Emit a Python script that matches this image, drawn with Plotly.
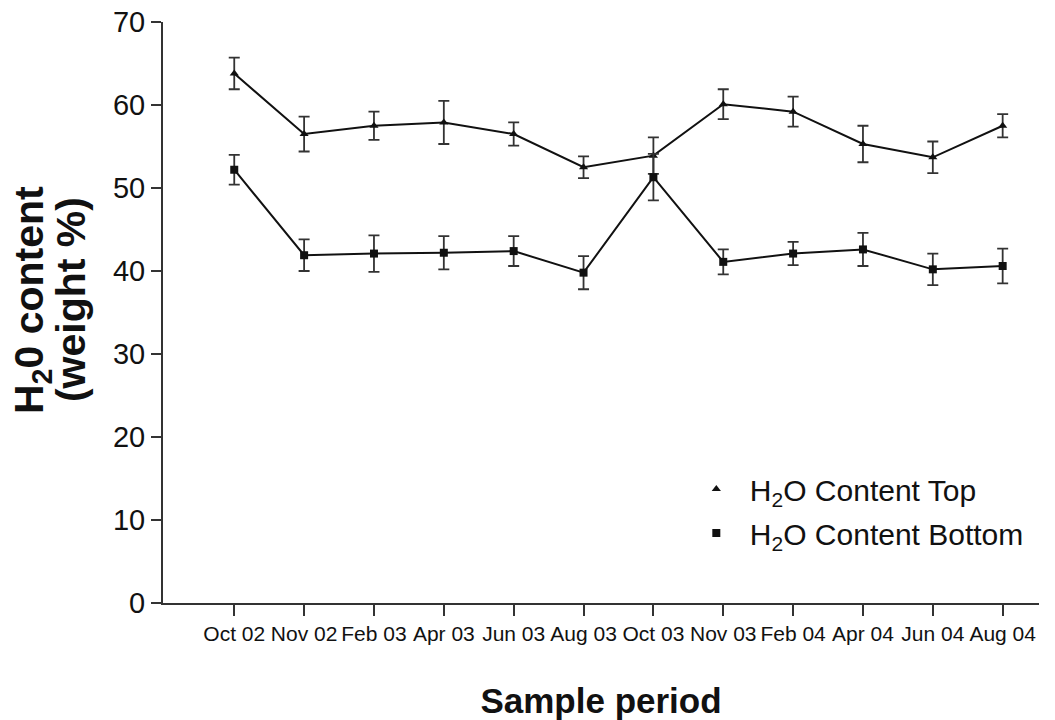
import plotly.graph_objects as go

# Sampling periods
periods = ["Oct 02", "Nov 02", "Feb 03", "Apr 03", "Jun 03", "Aug 03",
           "Oct 03", "Nov 03", "Feb 04", "Apr 04", "Jun 04", "Aug 04"]

# Water content of the top layer (weight %) and its error
top_mean = [63.8, 56.5, 57.5, 57.9, 56.5, 52.5, 53.9, 60.1, 59.2, 55.3, 53.7, 57.5]
top_err = [1.9, 2.1, 1.7, 2.6, 1.4, 1.3, 2.2, 1.8, 1.8, 2.2, 1.9, 1.4]

# Water content of the bottom layer (weight %) and its error
bottom_mean = [52.2, 41.9, 42.1, 42.2, 42.4, 39.8, 51.3, 41.1, 42.1, 42.6, 40.2, 40.6]
bottom_err = [1.8, 1.9, 2.2, 2.0, 1.8, 2.0, 2.8, 1.5, 1.4, 2.0, 1.9, 2.1]

# Two-line y-axis title
y_title_lines = ["H<sub>2</sub>0 content", "(weight %)"]

FONT = "Liberation Sans, Arial, sans-serif"
INK = "#111111"
AXIS = "#333333"

fig = go.Figure()


def add_series(name, values, errors, symbol, size, group):
    # data trace (line + markers + error bars)
    fig.add_trace(go.Scatter(
        x=periods, y=values, mode="lines+markers", showlegend=False,
        line=dict(color=INK, width=2),
        marker=dict(symbol=symbol, size=size, color=INK),
        error_y=dict(type="data", array=errors, visible=True,
                     color=AXIS, thickness=1.8, width=5.5),
    ))
    # legend entry showing the marker only
    fig.add_trace(go.Scatter(
        x=[None], y=[None], mode="markers", name=name, legendgroup=group,
        marker=dict(symbol=symbol, size=size, color=INK),
    ))


add_series("H<sub>2</sub>O Content Top", top_mean, top_err, "triangle-up", 8, "top")
add_series("H<sub>2</sub>O Content Bottom", bottom_mean, bottom_err, "square", 8, "bottom")

fig.update_layout(
    width=1055, height=720,
    paper_bgcolor="white", plot_bgcolor="white",
    margin=dict(l=163, r=16, t=22, b=117),
    font=dict(family=FONT, color=INK),
    legend=dict(
        x=0.5934, y=0.241, xanchor="left", yanchor="top",
        font=dict(size=30, family=FONT, color=INK),
        traceorder="grouped", tracegroupgap=2,
        bgcolor="rgba(0,0,0,0)", itemwidth=57,
    ),
)

# y-axis title, one annotation per line so the line spacing stays tight
for i, line in enumerate(y_title_lines):
    fig.add_annotation(
        text=f"<b>{line}</b>", textangle=-90, showarrow=False,
        xref="paper", yref="paper", x=-0.1495 + i * 0.0445, y=0.5215,
        xanchor="center", yanchor="middle",
        font=dict(size=41, family=FONT, color=INK),
    )

fig.update_xaxes(
    type="category", range=[-1.02, 11.52], automargin=False,
    showline=True, linecolor=AXIS, linewidth=2,
    ticks="outside", ticklen=11, tickwidth=2, tickcolor=AXIS,
    tickfont=dict(size=21, family=FONT, color=INK),
    showgrid=False, zeroline=False,
    title=dict(text="<b>Sample period</b>", font=dict(size=35, family=FONT, color=INK),
               standoff=46),
)

fig.update_yaxes(
    range=[0, 70], dtick=10, automargin=False,
    showline=True, linecolor=AXIS, linewidth=2,
    ticks="outside", ticklen=10, tickwidth=2, tickcolor=AXIS,
    tickfont=dict(size=29, family=FONT, color=INK),
    showgrid=False, zeroline=False,
)

fig.write_html("out.html")
